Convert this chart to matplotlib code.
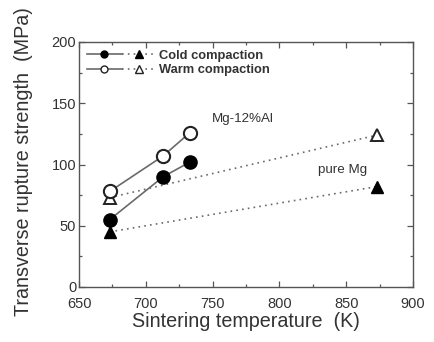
import matplotlib
matplotlib.use("Agg")
import matplotlib.pyplot as plt
from matplotlib.lines import Line2D
from matplotlib.legend_handler import HandlerTuple
from matplotlib.ticker import MultipleLocator

plt.rcParams['font.family'] = ['Liberation Sans', 'DejaVu Sans']

# Mg-12%Al alloy
alloy_T = [673, 713, 733]
alloy_cold = [55, 90, 102]
alloy_warm = [78, 107, 126]
# pure Mg
pure_T = [673, 873]
pure_cold = [45, 82]
pure_warm = [73, 124]

txt = '#333333'
line_c = '#6a6a6a'
dots = (0, (1, 2.5))

fig = plt.figure(figsize=(4.35, 3.42), dpi=100)
ax = fig.add_axes([79/435, 1-287/342, 334/435, 245/342])

ax.plot(pure_T, pure_cold, ls=dots, color=line_c, lw=1.2, zorder=2)
ax.plot(pure_T, pure_warm, ls=dots, color=line_c, lw=1.2, zorder=2)
ax.plot(pure_T, pure_cold, ls='none', marker='^', ms=8.5, mfc='black', mec='black', zorder=3)
ax.plot(pure_T, pure_warm, ls='none', marker='^', ms=8.5, mfc='white', mec='#222222', mew=1.4, zorder=3)
ax.plot(alloy_T, alloy_cold, '-', color=line_c, lw=1.2, marker='o', ms=9.5, mfc='black', mec='black', zorder=4)
ax.plot(alloy_T, alloy_warm, '-', color=line_c, lw=1.2, marker='o', ms=9.5, mfc='white', mec='#222222', mew=1.5, zorder=4)

ax.set_xlim(650, 900)
ax.set_ylim(0, 200)
ax.xaxis.set_major_locator(MultipleLocator(50))
ax.xaxis.set_minor_locator(MultipleLocator(25))
ax.yaxis.set_major_locator(MultipleLocator(50))
ax.yaxis.set_minor_locator(MultipleLocator(25))
ax.tick_params(which='both', direction='in', top=True, right=True, colors='#555555',
               labelcolor=txt, labelsize=10.5, width=0.9)
ax.tick_params(which='major', length=4)
ax.tick_params(which='minor', length=2.5)
ax.tick_params(axis='x', pad=7)
ax.tick_params(axis='y', pad=2)
for s in ax.spines.values():
    s.set_color('#555555')
    s.set_linewidth(1.0)

ax.set_xlabel('Sintering temperature  (K)', fontsize=14.2, color=txt, labelpad=1)
ax.set_ylabel('Transverse rupture strength  (MPa)', fontsize=14.2, color=txt)
ax.yaxis.set_label_coords(-0.138, 0.514)

ax.text(749.5, 137, 'Mg-12%Al', fontsize=9.6, color=txt, ha='left', va='center')
ax.text(829, 95.5, 'pure Mg', fontsize=9.6, color=txt, ha='left', va='center')

h_cold = (Line2D([], [], color=line_c, lw=1.2, marker='o', ms=5, mfc='black', mec='black'),
          Line2D([], [], color=line_c, lw=1.2, ls=dots, marker='^', ms=5.5, mfc='black', mec='black'))
h_warm = (Line2D([], [], color=line_c, lw=1.2, marker='o', ms=5, mfc='white', mec='#222222'),
          Line2D([], [], color=line_c, lw=1.2, ls=dots, marker='^', ms=5.5, mfc='white', mec='#222222'))
leg = ax.legend([h_cold, h_warm], ['Cold compaction', 'Warm compaction'],
                handler_map={tuple: HandlerTuple(ndivide=None, pad=0)},
                handlelength=5.4, handletextpad=0.2, labelspacing=0.2,
                loc='upper left', bbox_to_anchor=(0.0, 1.0), frameon=False,
                prop={'size': 9.3, 'weight': 'bold'}, borderaxespad=0.3,
                borderpad=0.3)
for t in leg.get_texts():
    t.set_color(txt)

fig.savefig('out.png', dpi=100)
